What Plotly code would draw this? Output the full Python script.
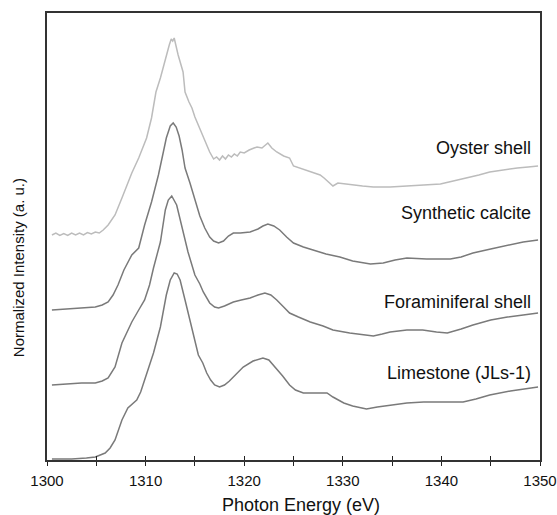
import plotly.graph_objects as go

# ---- data (photon energy in eV, normalized intensity with vertical offsets, a.u.) ----
oyster_x = [1300.5, 1300.9, 1301.3, 1301.7, 1302.1, 1302.5, 1302.9, 1303.3, 1303.7, 1304.1,
            1304.5, 1304.9, 1305.3, 1305.7, 1306.2, 1306.9, 1307.6, 1308.2, 1308.6, 1309.3,
            1310.1, 1310.6, 1311.05, 1311.5, 1312.0, 1312.4, 1312.6, 1312.75, 1312.9, 1313.3,
            1313.8, 1314.0, 1314.4, 1314.7, 1315.0, 1315.35, 1316.0, 1316.5, 1316.9, 1317.2,
            1317.5, 1317.8, 1318.1, 1318.4, 1318.7, 1319.0, 1319.3, 1319.6, 1320.0, 1320.5,
            1321.0, 1321.3, 1321.8, 1322.1, 1322.4, 1322.8, 1323.3, 1324.0, 1324.6, 1325.0,
            1325.6, 1326.3, 1327.0, 1327.7, 1328.1, 1328.5, 1329.0, 1329.5, 1330.2, 1331.0,
            1332.0, 1333.1, 1334.8, 1336.5, 1338.1, 1339.9, 1341.2, 1342.6, 1343.8, 1344.9,
            1346.2, 1347.7, 1348.8, 1349.8]
oyster_y = [2.25, 2.27, 2.245, 2.265, 2.245, 2.27, 2.25, 2.27, 2.25, 2.275,
            2.26, 2.28, 2.27, 2.30, 2.35, 2.45, 2.62, 2.78, 2.87, 3.02,
            3.22, 3.42, 3.68, 3.82, 4.02, 4.15, 4.21, 4.19, 4.22, 4.05,
            3.88, 3.68, 3.58, 3.52, 3.43, 3.35, 3.20, 3.08, 3.01, 3.03,
            3.00, 3.04, 3.01, 3.05, 3.03, 3.06, 3.04, 3.08, 3.07, 3.10,
            3.12, 3.13, 3.12, 3.15, 3.17, 3.12, 3.08, 3.04, 3.02, 2.94,
            2.92, 2.90, 2.87, 2.85, 2.82, 2.78, 2.74, 2.77, 2.76, 2.75,
            2.74, 2.73, 2.73, 2.74, 2.75, 2.76, 2.79, 2.82, 2.85, 2.88,
            2.90, 2.92, 2.93, 2.94]

synth_x = [1300.5, 1302.0, 1303.5, 1304.9, 1305.6, 1306.2, 1306.7, 1307.2, 1307.8, 1308.2,
           1308.6, 1309.3, 1309.9, 1310.6, 1311.3, 1311.8, 1312.1, 1312.5, 1312.8, 1313.1,
           1313.4, 1313.7, 1314.0, 1314.5, 1315.0, 1315.5, 1316.0, 1316.5, 1316.9, 1317.4,
           1317.9, 1318.4, 1318.9, 1319.6, 1320.6, 1321.4, 1321.9, 1322.4, 1323.0, 1323.6,
           1324.3, 1325.0, 1326.0, 1327.0, 1328.3, 1329.7, 1331.0, 1332.8, 1334.1, 1335.3,
           1336.5, 1338.5, 1340.9, 1342.0, 1343.2, 1345.0, 1346.7, 1348.3, 1349.8]
synth_y = [1.50, 1.51, 1.52, 1.53, 1.55, 1.58, 1.65, 1.75, 1.90, 1.98,
           2.05, 2.12, 2.35, 2.58, 2.85, 3.08, 3.22, 3.34, 3.37, 3.33,
           3.24, 3.10, 2.92, 2.77, 2.60, 2.44, 2.32, 2.23, 2.19, 2.17,
           2.19, 2.24, 2.27, 2.27, 2.28, 2.31, 2.34, 2.36, 2.34, 2.30,
           2.23, 2.17, 2.13, 2.10, 2.06, 2.03, 1.99, 1.96, 1.97, 2.00,
           2.02, 2.01, 2.01, 2.03, 2.07, 2.11, 2.15, 2.18, 2.20]

foram_x = [1300.5, 1302.0, 1303.5, 1304.9, 1305.6, 1306.2, 1306.9, 1307.6, 1308.6, 1309.3,
           1309.9, 1310.4, 1310.8, 1311.5, 1312.0, 1312.3, 1312.65, 1313.15, 1313.65, 1314.3,
           1315.0, 1315.5, 1315.85, 1316.5, 1317.0, 1317.4, 1318.0, 1318.9, 1319.7, 1320.6,
           1321.4, 1322.1, 1322.7, 1323.3, 1324.0, 1324.6, 1325.5, 1326.7, 1328.0, 1329.0,
           1330.7, 1332.0, 1333.1, 1334.0, 1334.8, 1336.5, 1338.1, 1339.5, 1340.6, 1342.0,
           1343.2, 1345.0, 1346.7, 1348.3, 1349.8]
foram_y = [0.75, 0.76, 0.77, 0.77, 0.79, 0.82, 0.93, 1.17, 1.38, 1.50,
           1.60, 1.75, 1.92, 2.18, 2.50, 2.60, 2.64, 2.55, 2.35, 2.08,
           1.85, 1.76, 1.68, 1.57, 1.53, 1.52, 1.54, 1.58, 1.60, 1.62,
           1.65, 1.67, 1.65, 1.60, 1.53, 1.47, 1.43, 1.38, 1.34, 1.30,
           1.27, 1.25, 1.24, 1.26, 1.28, 1.30, 1.30, 1.28, 1.27, 1.31,
           1.35, 1.40, 1.43, 1.45, 1.47]

lime_x = [1300.5, 1302.5, 1304.0, 1304.9, 1305.9, 1306.4, 1306.9, 1307.3, 1307.6, 1308.2,
          1308.7, 1309.1, 1309.5, 1309.9, 1310.4, 1310.8, 1311.5, 1311.8, 1312.1, 1312.5,
          1312.9, 1313.2, 1313.5, 1314.0, 1314.2, 1314.7, 1315.35, 1315.8, 1316.2, 1316.6,
          1317.0, 1317.5, 1318.0, 1318.5, 1318.9, 1319.4, 1319.9, 1320.9, 1321.9, 1322.5,
          1323.3, 1323.9, 1324.6, 1325.2, 1326.0, 1327.2, 1328.4, 1329.0, 1329.5, 1330.1,
          1331.0, 1332.4, 1333.5, 1334.8, 1336.5, 1338.2, 1340.0, 1342.2, 1343.5, 1344.9,
          1347.0, 1349.8]
lime_y = [0.01, 0.01, 0.02, 0.03, 0.07, 0.12, 0.20, 0.32, 0.40, 0.52,
          0.57, 0.60, 0.68, 0.80, 0.95, 1.07, 1.33, 1.50, 1.65, 1.80,
          1.87, 1.86, 1.80, 1.60, 1.52, 1.30, 1.05, 0.97, 0.87, 0.80,
          0.75, 0.73, 0.75, 0.79, 0.83, 0.89, 0.93, 0.99, 1.02, 1.00,
          0.91, 0.84, 0.75, 0.70, 0.67, 0.67, 0.67, 0.63, 0.60, 0.57,
          0.54, 0.51, 0.53, 0.55, 0.57, 0.58, 0.58, 0.58, 0.61, 0.65,
          0.69, 0.73]

series_names = ["Oyster shell", "Synthetic calcite", "Foraminiferal shell", "Limestone (JLs-1)"]
label_y = [3.12, 2.47, 1.58, 0.87]

x_ticks = [1300, 1310, 1320, 1330, 1340, 1350]

# ---- figure ----
FONT = "Liberation Sans, Arial, Helvetica, sans-serif"
fig = go.Figure()
data = [(oyster_x, oyster_y, "#bcbcbc"), (synth_x, synth_y, "#7a7a7a"),
        (foram_x, foram_y, "#7a7a7a"), (lime_x, lime_y, "#7a7a7a")]
for (xs, ys, col), name in zip(data, series_names):
    fig.add_trace(go.Scatter(x=xs, y=ys, mode="lines", name=name,
                             line=dict(color=col, width=1.5), showlegend=False))

# invisible trace on overlay axis for inside ticks
fig.add_trace(go.Scatter(x=[1300, 1350], y=[0, 0], xaxis="x2", mode="lines",
                         line=dict(width=0), hoverinfo="skip", showlegend=False))

for name, yy in zip(series_names, label_y):
    fig.add_annotation(x=1349.3, y=yy, text=name, showarrow=False, xanchor="right",
                       yanchor="middle", font=dict(size=18, color="#111", family=FONT))

fig.update_layout(
    width=557, height=515,
    margin=dict(l=47, r=17, t=13, b=55),
    paper_bgcolor="white", plot_bgcolor="white",
    font=dict(family=FONT, color="#111"),
    xaxis=dict(range=[1300, 1350], tickvals=x_ticks, ticks="outside", ticklen=4,
               tickwidth=1.3, tickcolor="#222", ticklabelstandoff=2, automargin=False,
               minor=dict(dtick=5, tick0=1300, ticks="outside", ticklen=4, tickwidth=1.3,
                          tickcolor="#222"),
               showgrid=False, zeroline=False, showline=True, linecolor="#333",
               linewidth=1.6, mirror=True, tickfont=dict(size=15, family=FONT, color="#111")),
    xaxis2=dict(range=[1300, 1350], overlaying="x", side="bottom", dtick=5, tick0=1300,
                ticks="inside", ticklen=4, tickwidth=1.3, tickcolor="#222", automargin=False,
                showticklabels=False, showgrid=False, zeroline=False, showline=False),
    yaxis=dict(range=[0, 4.47], showticklabels=False, ticks="", showgrid=False,
               automargin=False, zeroline=False, showline=True, linecolor="#333",
               linewidth=1.6, mirror=True),
)

fig.add_annotation(text="Photon Energy (eV)", xref="paper", yref="paper", x=0.515, y=-0.074,
                   showarrow=False, yanchor="top", font=dict(size=18, family=FONT, color="#111"))
fig.add_annotation(text="Normalized Intensity (a. u.)", xref="paper", yref="paper",
                   x=-0.058, y=0.43, textangle=-90, showarrow=False, xanchor="center",
                   yanchor="middle", font=dict(size=15, family=FONT, color="#111"))

fig.write_html("out.html", config={"displayModeBar": False},
               post_script="document.body.style.margin='0px';")
